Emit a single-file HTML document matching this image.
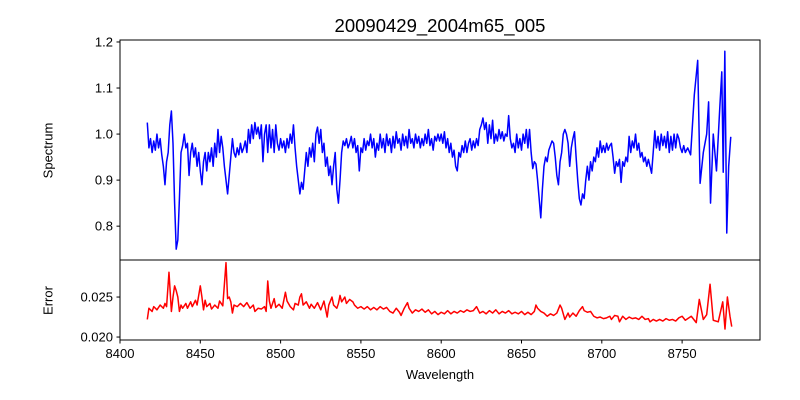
<!DOCTYPE html>
<html><head><meta charset="utf-8"><style>body{margin:0;background:#fff}svg{display:block;font-family:"Liberation Sans","DejaVu Sans",sans-serif}</style></head>
<body>
<svg id="chart" width="800" height="400"></svg>
<script>
const specWl = [8417,8418,8419,8420,8421,8422,8423,8424,8425,8426,8427,8428,8429,8430,8431,8432,8433,8434,8435,8436,8437,8438,8439,8440,8441,8442,8443,8444,8445,8446,8447,8448,8449,8450,8451,8452,8453,8454,8455,8456,8457,8458,8459,8460,8461,8462,8463,8464,8465,8466,8467,8468,8469,8470,8471,8472,8473,8474,8475,8476,8477,8478,8479,8480,8481,8482,8483,8484,8485,8486,8487,8488,8489,8490,8491,8492,8493,8494,8495,8496,8497,8498,8499,8500,8501,8502,8503,8504,8505,8506,8507,8508,8509,8510,8511,8512,8513,8514,8515,8516,8517,8518,8519,8520,8521,8522,8523,8524,8525,8526,8527,8528,8529,8530,8531,8532,8533,8534,8535,8536,8537,8538,8539,8540,8541,8542,8543,8544,8545,8546,8547,8548,8549,8550,8551,8552,8553,8554,8555,8556,8557,8558,8559,8560,8561,8562,8563,8564,8565,8566,8567,8568,8569,8570,8571,8572,8573,8574,8575,8576,8577,8578,8579,8580,8581,8582,8583,8584,8585,8586,8587,8588,8589,8590,8591,8592,8593,8594,8595,8596,8597,8598,8599,8600,8601,8602,8603,8604,8605,8606,8607,8608,8609,8610,8611,8612,8613,8614,8615,8616,8617,8618,8619,8620,8621,8622,8623,8624,8625,8626,8627,8628,8629,8630,8631,8632,8633,8634,8635,8636,8637,8638,8639,8640,8641,8642,8643,8644,8645,8646,8647,8648,8649,8650,8651,8652,8653,8654,8655,8656,8657,8658,8659,8660,8661,8662,8663,8664,8665,8666,8667,8668,8669,8670,8671,8672,8673,8674,8675,8676,8677,8678,8679,8680,8681,8682,8683,8684,8685,8686,8687,8688,8689,8690,8691,8692,8693,8694,8695,8696,8697,8698,8699,8700,8701,8702,8703,8704,8705,8706,8707,8708,8709,8710,8711,8712,8713,8714,8715,8716,8717,8718,8719,8720,8721,8722,8723,8724,8725,8726,8727,8728,8729,8730,8731,8732,8733,8734,8735,8736,8737,8738,8739,8740,8741,8742,8743,8744,8745,8746,8747,8748,8749,8750,8751,8752,8753.5,8755.3,8757.6,8759.7,8761.2,8763.2,8765.3,8766.5,8767.7,8769.4,8771.4,8773.5,8774.7,8775.6,8776.6,8777.8,8779,8780.3];
const specFlux = [1.025,0.97,0.99,0.96,0.985,0.965,1.0,0.97,0.99,0.955,0.93,0.89,0.94,0.96,1.02,1.05,0.98,0.85,0.75,0.77,0.86,0.96,0.975,1.0,0.97,0.98,0.91,0.96,0.98,0.95,0.97,0.93,0.96,0.92,0.89,0.94,0.96,0.92,0.96,0.94,0.97,0.93,0.98,0.95,1.01,0.96,0.995,0.97,0.93,0.9,0.87,0.91,0.95,0.99,0.96,0.95,0.97,0.955,0.98,0.96,0.97,0.985,0.96,1.01,0.98,1.02,0.99,1.025,1.0,1.015,0.99,1.02,0.94,1.0,1.02,0.96,1.02,0.97,1.01,0.96,1.02,0.98,0.965,0.99,0.97,0.985,0.96,0.99,0.97,1.0,0.98,1.02,0.97,0.93,0.9,0.87,0.895,0.88,0.92,0.96,0.93,0.97,0.95,0.98,0.94,1.0,1.015,0.98,1.01,0.96,0.98,0.93,0.95,0.91,0.93,0.89,0.93,0.96,0.88,0.85,0.9,0.96,0.985,0.975,0.99,0.97,0.98,0.995,0.97,0.99,0.96,0.975,0.92,0.97,0.96,0.99,0.965,0.985,0.975,1.0,0.97,0.99,0.95,0.98,0.965,1.0,0.97,0.99,0.96,1.0,0.975,0.99,0.96,0.995,0.97,1.005,0.98,0.99,0.965,1.0,0.975,0.995,0.97,1.01,0.98,0.99,0.97,1.0,0.98,0.995,0.97,0.99,0.975,1.0,0.98,1.01,0.975,0.99,0.965,0.995,0.985,1.0,0.985,1.0,0.98,1.005,0.97,0.99,0.96,0.98,0.95,0.965,0.93,0.92,0.96,0.95,0.975,0.96,0.985,0.96,0.98,0.99,0.965,0.985,0.97,0.99,0.975,1.01,1.02,1.035,1.01,1.025,0.98,1.02,0.99,1.03,0.98,1.0,0.985,1.01,0.99,1.005,0.985,1.0,0.995,1.04,0.99,0.97,0.98,0.96,1.0,0.97,0.99,0.965,1.0,0.98,1.01,0.97,1.01,0.96,0.925,0.94,0.935,0.9,0.86,0.818,0.88,0.93,0.95,0.94,0.965,0.975,0.985,0.98,0.95,0.91,0.89,0.94,0.96,1.0,1.01,1.0,0.98,0.93,0.97,0.99,1.005,0.95,0.9,0.86,0.846,0.87,0.86,0.9,0.93,0.9,0.94,0.92,0.95,0.94,0.97,0.95,0.985,0.96,0.975,0.96,0.98,0.965,0.975,0.98,0.95,0.915,0.94,0.93,0.945,0.895,0.94,0.93,0.95,0.94,0.995,0.96,0.985,0.97,1.0,0.965,0.98,0.95,0.96,0.94,0.95,0.93,0.945,0.93,0.915,0.96,1.007,0.97,0.995,0.965,1.0,0.975,0.995,0.97,1.005,0.96,0.995,0.965,1.0,0.97,1.0,0.99,0.97,0.96,0.975,0.96,0.97,0.955,1.085,1.16,0.893,0.96,1.0,1.07,0.85,1.0,0.92,1.06,1.135,0.917,1.18,0.785,0.93,0.994];
const errWl = [8417,8418,8420,8421,8423,8425,8427,8428,8429,8430.5,8432,8433,8434,8435,8436,8437,8438,8439,8441,8442,8444,8445,8447,8448,8450,8451,8452,8453,8454,8456,8457,8459,8461,8462,8464,8466,8467,8468,8469,8470,8471,8473,8475,8477,8479,8481,8483,8484,8486,8488,8490,8491,8492,8493,8494,8496,8497,8499,8501,8503,8504,8506,8508,8509,8511,8512,8513,8514,8516,8518,8519,8521,8523,8525,8527,8529,8530,8532,8533,8535,8536,8537,8538,8540,8541,8543,8545,8546,8548,8550,8552,8554,8556,8558,8560,8562,8564,8566,8568,8570,8572,8574,8575,8577,8579,8580,8582,8584,8586,8588,8590,8592,8594,8596,8598,8600,8602,8604,8606,8608,8610,8612,8614,8616,8618,8620,8622,8624,8626,8628,8630,8632,8634,8636,8638,8640,8642,8644,8646,8648,8650,8652,8654,8656,8658,8659,8660,8662,8664,8666,8668,8670,8672,8674,8675,8677,8679,8680,8682,8684,8686,8688,8689,8691,8693,8695,8697,8699,8701,8703,8705,8706,8708,8710,8711,8713,8715,8717,8719,8721,8723,8725,8727,8729,8730,8732,8734,8736,8738,8740,8742,8744,8746,8748,8750,8752,8755.7,8758.8,8760.7,8763.2,8765.3,8767.4,8769.4,8772.5,8775.3,8776.7,8778.2,8779.8,8780.9];
const errVal = [.0222,.0236,.0232,.0238,.0234,.024,.0236,.0242,.0238,.0281,.0232,.025,.0264,.0258,.025,.0232,.024,.0236,.0242,.0236,.0244,.0238,.0246,.024,.0264,.025,.0234,.0246,.0238,.0242,.0235,.024,.0236,.0245,.0239,.0293,.0248,.025,.0244,.023,.024,.0238,.0242,.0238,.0243,.0236,.024,.0232,.0236,.0235,.0238,.0232,.027,.0245,.0236,.0248,.0237,.0241,.0236,.0256,.0245,.0238,.0234,.0242,.024,.025,.0254,.024,.0244,.0236,.0241,.0236,.0243,.0234,.0245,.0225,.024,.025,.024,.0236,.0242,.0252,.0244,.025,.0242,.0247,.0244,.024,.0236,.0238,.0235,.0238,.0234,.0237,.0234,.0238,.0235,.0237,.0232,.023,.0236,.0231,.0227,.0236,.0243,.0236,.023,.0234,.0232,.0235,.0231,.0234,.0229,.0232,.0228,.0231,.0229,.0233,.0229,.0232,.023,.0233,.0231,.0234,.0232,.0233,.0238,.023,.0232,.0229,.0233,.023,.0234,.0229,.0232,.023,.0233,.0229,.0231,.0229,.0232,.0228,.0231,.0228,.0232,.024,.0236,.0232,.023,.0226,.0229,.0227,.023,.024,.0236,.0222,.023,.0225,.023,.0226,.0233,.0238,.0233,.0231,.0232,.0226,.0224,.0225,.0223,.0224,.0226,.0222,.0227,.0226,.0219,.0226,.0222,.0225,.0223,.0224,.0222,.0226,.0222,.0223,.0219,.0222,.022,.0222,.022,.0223,.0221,.0222,.022,.0224,.0226,.0221,.0226,.0218,.0247,.0222,.0228,.0266,.0221,.0219,.0244,.021,.025,.0226,.0213];
const xTicks = [8400,8450,8500,8550,8600,8650,8700,8750];
const specTicks = [0.8,0.9,1.0,1.1,1.2];
const errTicks = [0.020,0.025];

const NS='http://www.w3.org/2000/svg';
const svg=document.getElementById('chart');
const L=120,R=760,T1=40,B1=260,T2=260,B2=340;
const xMin=8400,xMax=8798.5;
const sy0=0.7265,sy1=1.2043, ey0=0.01963, ey1=0.02963;
const X=v=>L+(v-xMin)/(xMax-xMin)*(R-L);
const YS=v=>B1-(v-sy0)/(sy1-sy0)*(B1-T1);
const YE=v=>B2-(v-ey0)/(ey1-ey0)*(B2-T2);
function el(tag,attrs,parent){const e=document.createElementNS(NS,tag);for(const k in attrs)e.setAttribute(k,attrs[k]);(parent||svg).appendChild(e);return e;}
function txt(s,attrs){const t=el('text',attrs);t.textContent=s;return t;}

let d=specWl.map((w,i)=>(i?'L':'M')+X(w).toFixed(2)+','+YS(specFlux[i]).toFixed(2)).join('');
const sp=el('path',{d:d,fill:'none',stroke:'#0000ff','stroke-width':1.5,'stroke-linejoin':'round'});


d=errWl.map((w,i)=>(i?'L':'M')+X(w).toFixed(2)+','+YE(errVal[i]).toFixed(2)).join('');
const ep=el('path',{d:d,fill:'none',stroke:'#ff0000','stroke-width':1.5,'stroke-linejoin':'round'});



const f1=el('rect',{x:L,y:T1,width:R-L,height:B1-T1,fill:'none',stroke:'#000','stroke-width':1});


const f2=el('rect',{x:L,y:T2,width:R-L,height:B2-T2,fill:'none',stroke:'#000','stroke-width':1});



xTicks.forEach(v=>{const x=X(v);
 el('line',{x1:x,x2:x,y1:B2,y2:B2+3.5,stroke:'#000'});
 const t=txt(String(v),{x:x,y:B2+18,'text-anchor':'middle','font-size':13});
 
 
});
specTicks.forEach(v=>{const y=YS(v);
 el('line',{x1:L-3.5,x2:L,y1:y,y2:y,stroke:'#000'});
 const t=txt(v.toFixed(1),{x:L-7,y:y+4.5,'text-anchor':'end','font-size':13});
 
 
});
errTicks.forEach(v=>{const y=YE(v);
 el('line',{x1:L-3.5,x2:L,y1:y,y2:y,stroke:'#000'});
 const t=txt(v.toFixed(3),{x:L-7,y:y+4.5,'text-anchor':'end','font-size':13});
 
 
});
</script>
<div style="position:absolute;left:0;top:0;width:800px;height:400px;pointer-events:none;font-family:'Liberation Sans','DejaVu Sans',sans-serif">
<div style="position:absolute;left:240px;width:400px;top:15px;text-align:center;font-size:18.5px">20090429_2004m65_005</div>
<div style="position:absolute;left:340px;width:200px;top:367px;text-align:center;font-size:13px">Wavelength</div>
<div style="position:absolute;left:-2px;top:143px;width:100px;text-align:center;font-size:13px;transform:rotate(-90deg)">Spectrum</div>
<div style="position:absolute;left:-2px;top:293px;width:100px;text-align:center;font-size:13px;transform:rotate(-90deg)">Error</div>
</div>
</body></html>
